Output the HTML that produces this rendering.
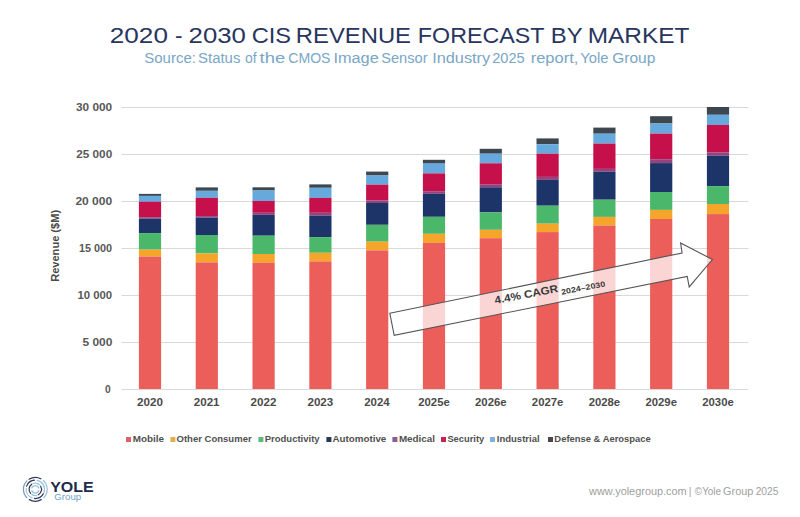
<!DOCTYPE html>
<html><head><meta charset="utf-8"><style>
html,body{margin:0;padding:0;background:#fff;width:800px;height:517px;overflow:hidden}
svg{display:block}
text{font-family:"Liberation Sans", sans-serif}

.title{font-size:22.5px;fill:#28355E}
.sub{font-size:14px;fill:#7AA6C6}
.yl{font-size:10.2px;font-weight:bold;fill:#585858}
.xl{font-size:10.2px;font-weight:bold;fill:#4A4A4A}
.yt{font-size:10.8px;font-weight:bold;fill:#4A4A4A}
.lg{font-size:9.6px;font-weight:bold;fill:#505050}
.cagr{font-size:10.8px;font-weight:bold;fill:#3A3A3A}
.cagrs{font-size:7.6px;font-weight:bold;fill:#3A3A3A}
.foot{font-size:10.3px;fill:#A0A0A0}
.yole{font-size:14.8px;font-weight:bold;fill:#1F2A4D}
.grp{font-size:8.2px;fill:#6FA3C7}

</style></head><body>
<svg width="800" height="517" viewBox="0 0 800 517">
<rect x="121.5" y="389" width="627" height="1" fill="#D9D9D9"/>
<rect x="121.5" y="342" width="627" height="1" fill="#D9D9D9"/>
<rect x="121.5" y="295" width="627" height="1" fill="#D9D9D9"/>
<rect x="121.5" y="248" width="627" height="1" fill="#D9D9D9"/>
<rect x="121.5" y="201" width="627" height="1" fill="#D9D9D9"/>
<rect x="121.5" y="154" width="627" height="1" fill="#D9D9D9"/>
<rect x="121.5" y="107" width="627" height="1" fill="#D9D9D9"/>
<rect x="138.90" y="193.90" width="22.2" height="2.00" fill="#3D4750"/>
<rect x="138.90" y="195.90" width="22.2" height="5.80" fill="#66A9DC"/>
<rect x="138.90" y="201.70" width="22.2" height="15.50" fill="#C6104C"/>
<rect x="138.90" y="217.20" width="22.2" height="1.50" fill="#93447F"/>
<rect x="138.90" y="218.70" width="22.2" height="14.40" fill="#1D3469"/>
<rect x="138.90" y="233.10" width="22.2" height="16.60" fill="#4AB76A"/>
<rect x="138.90" y="249.70" width="22.2" height="6.90" fill="#F5A52A"/>
<rect x="138.90" y="256.60" width="22.2" height="132.40" fill="#EC5E5A"/>
<rect x="195.70" y="187.40" width="22.2" height="3.40" fill="#3D4750"/>
<rect x="195.70" y="190.80" width="22.2" height="7.00" fill="#66A9DC"/>
<rect x="195.70" y="197.80" width="22.2" height="18.30" fill="#C6104C"/>
<rect x="195.70" y="216.10" width="22.2" height="1.50" fill="#93447F"/>
<rect x="195.70" y="217.60" width="22.2" height="17.40" fill="#1D3469"/>
<rect x="195.70" y="235.00" width="22.2" height="18.50" fill="#4AB76A"/>
<rect x="195.70" y="253.50" width="22.2" height="8.90" fill="#F5A52A"/>
<rect x="195.70" y="262.40" width="22.2" height="126.60" fill="#EC5E5A"/>
<rect x="252.50" y="187.30" width="22.2" height="3.20" fill="#3D4750"/>
<rect x="252.50" y="190.50" width="22.2" height="10.40" fill="#66A9DC"/>
<rect x="252.50" y="200.90" width="22.2" height="11.90" fill="#C6104C"/>
<rect x="252.50" y="212.80" width="22.2" height="2.00" fill="#93447F"/>
<rect x="252.50" y="214.80" width="22.2" height="20.90" fill="#1D3469"/>
<rect x="252.50" y="235.70" width="22.2" height="18.30" fill="#4AB76A"/>
<rect x="252.50" y="254.00" width="22.2" height="8.80" fill="#F5A52A"/>
<rect x="252.50" y="262.80" width="22.2" height="126.20" fill="#EC5E5A"/>
<rect x="309.30" y="184.40" width="22.2" height="3.40" fill="#3D4750"/>
<rect x="309.30" y="187.80" width="22.2" height="10.10" fill="#66A9DC"/>
<rect x="309.30" y="197.90" width="22.2" height="14.90" fill="#C6104C"/>
<rect x="309.30" y="212.80" width="22.2" height="2.90" fill="#93447F"/>
<rect x="309.30" y="215.70" width="22.2" height="21.40" fill="#1D3469"/>
<rect x="309.30" y="237.10" width="22.2" height="15.70" fill="#4AB76A"/>
<rect x="309.30" y="252.80" width="22.2" height="8.60" fill="#F5A52A"/>
<rect x="309.30" y="261.40" width="22.2" height="127.60" fill="#EC5E5A"/>
<rect x="366.10" y="171.60" width="22.2" height="3.90" fill="#3D4750"/>
<rect x="366.10" y="175.50" width="22.2" height="9.20" fill="#66A9DC"/>
<rect x="366.10" y="184.70" width="22.2" height="15.70" fill="#C6104C"/>
<rect x="366.10" y="200.40" width="22.2" height="2.60" fill="#93447F"/>
<rect x="366.10" y="203.00" width="22.2" height="21.80" fill="#1D3469"/>
<rect x="366.10" y="224.80" width="22.2" height="16.90" fill="#4AB76A"/>
<rect x="366.10" y="241.70" width="22.2" height="8.70" fill="#F5A52A"/>
<rect x="366.10" y="250.40" width="22.2" height="138.60" fill="#EC5E5A"/>
<rect x="422.90" y="159.80" width="22.2" height="3.80" fill="#3D4750"/>
<rect x="422.90" y="163.60" width="22.2" height="9.80" fill="#66A9DC"/>
<rect x="422.90" y="173.40" width="22.2" height="17.80" fill="#C6104C"/>
<rect x="422.90" y="191.20" width="22.2" height="2.60" fill="#93447F"/>
<rect x="422.90" y="193.80" width="22.2" height="23.00" fill="#1D3469"/>
<rect x="422.90" y="216.80" width="22.2" height="17.00" fill="#4AB76A"/>
<rect x="422.90" y="233.80" width="22.2" height="9.10" fill="#F5A52A"/>
<rect x="422.90" y="242.90" width="22.2" height="146.10" fill="#EC5E5A"/>
<rect x="479.70" y="148.80" width="22.2" height="4.90" fill="#3D4750"/>
<rect x="479.70" y="153.70" width="22.2" height="9.60" fill="#66A9DC"/>
<rect x="479.70" y="163.30" width="22.2" height="20.90" fill="#C6104C"/>
<rect x="479.70" y="184.20" width="22.2" height="3.10" fill="#93447F"/>
<rect x="479.70" y="187.30" width="22.2" height="25.10" fill="#1D3469"/>
<rect x="479.70" y="212.40" width="22.2" height="17.40" fill="#4AB76A"/>
<rect x="479.70" y="229.80" width="22.2" height="8.40" fill="#F5A52A"/>
<rect x="479.70" y="238.20" width="22.2" height="150.80" fill="#EC5E5A"/>
<rect x="536.50" y="138.40" width="22.2" height="5.80" fill="#3D4750"/>
<rect x="536.50" y="144.20" width="22.2" height="9.50" fill="#66A9DC"/>
<rect x="536.50" y="153.70" width="22.2" height="23.20" fill="#C6104C"/>
<rect x="536.50" y="176.90" width="22.2" height="3.00" fill="#93447F"/>
<rect x="536.50" y="179.90" width="22.2" height="25.80" fill="#1D3469"/>
<rect x="536.50" y="205.70" width="22.2" height="18.00" fill="#4AB76A"/>
<rect x="536.50" y="223.70" width="22.2" height="8.40" fill="#F5A52A"/>
<rect x="536.50" y="232.10" width="22.2" height="156.90" fill="#EC5E5A"/>
<rect x="593.30" y="127.60" width="22.2" height="6.10" fill="#3D4750"/>
<rect x="593.30" y="133.70" width="22.2" height="9.90" fill="#66A9DC"/>
<rect x="593.30" y="143.60" width="22.2" height="25.30" fill="#C6104C"/>
<rect x="593.30" y="168.90" width="22.2" height="2.80" fill="#93447F"/>
<rect x="593.30" y="171.70" width="22.2" height="28.00" fill="#1D3469"/>
<rect x="593.30" y="199.70" width="22.2" height="17.20" fill="#4AB76A"/>
<rect x="593.30" y="216.90" width="22.2" height="8.70" fill="#F5A52A"/>
<rect x="593.30" y="225.60" width="22.2" height="163.40" fill="#EC5E5A"/>
<rect x="650.10" y="116.20" width="22.2" height="7.30" fill="#3D4750"/>
<rect x="650.10" y="123.50" width="22.2" height="10.10" fill="#66A9DC"/>
<rect x="650.10" y="133.60" width="22.2" height="25.60" fill="#C6104C"/>
<rect x="650.10" y="159.20" width="22.2" height="3.90" fill="#93447F"/>
<rect x="650.10" y="163.10" width="22.2" height="28.90" fill="#1D3469"/>
<rect x="650.10" y="192.00" width="22.2" height="17.90" fill="#4AB76A"/>
<rect x="650.10" y="209.90" width="22.2" height="9.10" fill="#F5A52A"/>
<rect x="650.10" y="219.00" width="22.2" height="170.00" fill="#EC5E5A"/>
<rect x="706.90" y="107.00" width="22.2" height="7.80" fill="#3D4750"/>
<rect x="706.90" y="114.80" width="22.2" height="10.10" fill="#66A9DC"/>
<rect x="706.90" y="124.90" width="22.2" height="27.40" fill="#C6104C"/>
<rect x="706.90" y="152.30" width="22.2" height="3.40" fill="#93447F"/>
<rect x="706.90" y="155.70" width="22.2" height="30.40" fill="#1D3469"/>
<rect x="706.90" y="186.10" width="22.2" height="17.90" fill="#4AB76A"/>
<rect x="706.90" y="204.00" width="22.2" height="10.10" fill="#F5A52A"/>
<rect x="706.90" y="214.10" width="22.2" height="174.90" fill="#EC5E5A"/>
<path d="M389.8,313.3 L682.1,253 L680.6,242.9 L712.4,259.5 L689.2,286.9 L687.2,276.5 L394.2,335.3 Z" fill="rgba(255,255,255,0.74)" stroke="#555" stroke-width="1.1" stroke-linejoin="miter"/>
<rect x="126" y="437" width="5" height="5" fill="#DD5F70"/>
<rect x="170.4" y="437" width="5" height="5" fill="#E3AE4F"/>
<rect x="258.4" y="437" width="5" height="5" fill="#5DB97B"/>
<rect x="326.4" y="437" width="5" height="5" fill="#25385E"/>
<rect x="392.4" y="437" width="5" height="5" fill="#8C5A96"/>
<rect x="441" y="437" width="5" height="5" fill="#C2254F"/>
<rect x="490" y="437" width="5" height="5" fill="#7EB2DA"/>
<rect x="548" y="437" width="5" height="5" fill="#484848"/>
<path d="M28.99,479.21 A11.9,11.9 0 0 1 40.89,478.79" fill="none" stroke="#2F3A5A" stroke-width="1.25" stroke-linecap="round"/>
<path d="M41.25,499.61 A11.9,11.9 0 0 1 29.35,499.61" fill="none" stroke="#2F3A5A" stroke-width="1.25" stroke-linecap="round"/>
<path d="M26.89,497.71 A11.9,11.9 0 0 1 26.89,480.89" fill="none" stroke="#7E9DB3" stroke-width="1.25" stroke-linecap="round"/>
<path d="M43.26,480.46 A11.9,11.9 0 0 1 43.71,497.71" fill="none" stroke="#9CC2DA" stroke-width="1.25" stroke-linecap="round"/>
<path d="M26.65,486.15 A9.2,9.2 0 0 1 34.50,480.14" fill="none" stroke="#2F3A5A" stroke-width="1.25" stroke-linecap="round"/>
<path d="M43.27,493.90 A9.2,9.2 0 0 1 34.50,498.46" fill="none" stroke="#2F3A5A" stroke-width="1.25" stroke-linecap="round"/>
<path d="M37.21,480.30 A9.2,9.2 0 0 1 43.95,492.45" fill="none" stroke="#9CC2DA" stroke-width="1.25" stroke-linecap="round"/>
<path d="M32.15,497.95 A9.2,9.2 0 0 1 26.14,488.50" fill="none" stroke="#9CC2DA" stroke-width="1.25" stroke-linecap="round"/>
<path d="M30.55,493.29 A6.2,6.2 0 0 1 31.74,484.22" fill="none" stroke="#2F3A5A" stroke-width="1.25" stroke-linecap="round"/>
<path d="M40.67,486.20 A6.2,6.2 0 0 1 38.40,494.67" fill="none" stroke="#2F3A5A" stroke-width="1.25" stroke-linecap="round"/>
<path d="M33.18,483.47 A6.2,6.2 0 0 1 39.91,485.15" fill="none" stroke="#9CC2DA" stroke-width="1.25" stroke-linecap="round"/>
<path d="M36.90,495.29 A6.2,6.2 0 0 1 31.74,494.38" fill="none" stroke="#9CC2DA" stroke-width="1.25" stroke-linecap="round"/>
<path d="M31.82,488.03 A3.7,3.7 0 0 1 38.78,488.03" fill="none" stroke="#9CC2DA" stroke-width="1.25" stroke-linecap="round"/>
<path d="M38.78,490.57 A3.7,3.7 0 0 1 31.82,490.57" fill="none" stroke="#9CC2DA" stroke-width="1.25" stroke-linecap="round"/>
<text x="109.83" y="43" class="title" textLength="58.10" lengthAdjust="spacingAndGlyphs">2020</text>
<text x="175.12" y="43" class="title" textLength="7.50" lengthAdjust="spacingAndGlyphs">-</text>
<text x="188.60" y="43" class="title" textLength="57.32" lengthAdjust="spacingAndGlyphs">2030</text>
<text x="251.69" y="43" class="title" textLength="39.37" lengthAdjust="spacingAndGlyphs">CIS</text>
<text x="295.82" y="43" class="title" textLength="115.20" lengthAdjust="spacingAndGlyphs">REVENUE</text>
<text x="417.88" y="43" class="title" textLength="126.50" lengthAdjust="spacingAndGlyphs">FORECAST</text>
<text x="550.81" y="43" class="title" textLength="31.93" lengthAdjust="spacingAndGlyphs">BY</text>
<text x="587.77" y="43" class="title" textLength="101.70" lengthAdjust="spacingAndGlyphs">MARKET</text>
<text x="144.27" y="62.6" class="sub" textLength="51.66" lengthAdjust="spacingAndGlyphs">Source:</text>
<text x="198.07" y="62.6" class="sub" textLength="42.33" lengthAdjust="spacingAndGlyphs">Status</text>
<text x="244.97" y="62.6" class="sub" textLength="11.60" lengthAdjust="spacingAndGlyphs">of</text>
<text x="259.62" y="62.6" class="sub" textLength="25.57" lengthAdjust="spacingAndGlyphs">the</text>
<text x="288.25" y="62.6" class="sub" textLength="42.25" lengthAdjust="spacingAndGlyphs">CMOS</text>
<text x="333.41" y="62.6" class="sub" textLength="45.36" lengthAdjust="spacingAndGlyphs">Image</text>
<text x="381.20" y="62.6" class="sub" textLength="46.35" lengthAdjust="spacingAndGlyphs">Sensor</text>
<text x="432.16" y="62.6" class="sub" textLength="58.08" lengthAdjust="spacingAndGlyphs">Industry</text>
<text x="492.26" y="62.6" class="sub" textLength="32.42" lengthAdjust="spacingAndGlyphs">2025</text>
<text x="530.65" y="62.6" class="sub" textLength="47.78" lengthAdjust="spacingAndGlyphs">report,</text>
<text x="580.31" y="62.6" class="sub" textLength="28.21" lengthAdjust="spacingAndGlyphs">Yole</text>
<text x="612.19" y="62.6" class="sub" textLength="43.11" lengthAdjust="spacingAndGlyphs">Group</text>
<text x="105.12" y="392.6" class="yl" textLength="5.67" lengthAdjust="spacingAndGlyphs">0</text>
<text x="82.48" y="345.6" class="yl" textLength="29.96" lengthAdjust="spacingAndGlyphs">5 000</text>
<text x="77.47" y="298.6" class="yl" textLength="34.72" lengthAdjust="spacingAndGlyphs">10 000</text>
<text x="79.00" y="251.6" class="yl" textLength="33.16" lengthAdjust="spacingAndGlyphs">15 000</text>
<text x="75.42" y="204.6" class="yl" textLength="36.79" lengthAdjust="spacingAndGlyphs">20 000</text>
<text x="76.23" y="157.6" class="yl" textLength="35.97" lengthAdjust="spacingAndGlyphs">25 000</text>
<text x="76.04" y="110.6" class="yl" textLength="36.16" lengthAdjust="spacingAndGlyphs">30 000</text>
<text x="137.03" y="406.2" class="xl" textLength="25.86" lengthAdjust="spacingAndGlyphs">2020</text>
<text x="193.84" y="406.2" class="xl" textLength="25.71" lengthAdjust="spacingAndGlyphs">2021</text>
<text x="250.64" y="406.2" class="xl" textLength="25.81" lengthAdjust="spacingAndGlyphs">2022</text>
<text x="307.44" y="406.2" class="xl" textLength="25.82" lengthAdjust="spacingAndGlyphs">2023</text>
<text x="364.24" y="406.2" class="xl" textLength="25.46" lengthAdjust="spacingAndGlyphs">2024</text>
<text x="418.25" y="406.2" class="xl" textLength="31.51" lengthAdjust="spacingAndGlyphs">2025e</text>
<text x="475.05" y="406.2" class="xl" textLength="31.51" lengthAdjust="spacingAndGlyphs">2026e</text>
<text x="531.85" y="406.2" class="xl" textLength="31.51" lengthAdjust="spacingAndGlyphs">2027e</text>
<text x="588.65" y="406.2" class="xl" textLength="31.51" lengthAdjust="spacingAndGlyphs">2028e</text>
<text x="645.45" y="406.2" class="xl" textLength="31.51" lengthAdjust="spacingAndGlyphs">2029e</text>
<text x="702.25" y="406.2" class="xl" textLength="31.51" lengthAdjust="spacingAndGlyphs">2030e</text>
<text x="132.72" y="442" class="lg" textLength="31.40" lengthAdjust="spacingAndGlyphs">Mobile</text>
<text x="176.53" y="442" class="lg" textLength="75.12" lengthAdjust="spacingAndGlyphs">Other Consumer</text>
<text x="264.75" y="442" class="lg" textLength="54.86" lengthAdjust="spacingAndGlyphs">Productivity</text>
<text x="332.52" y="442" class="lg" textLength="53.74" lengthAdjust="spacingAndGlyphs">Automotive</text>
<text x="398.92" y="442" class="lg" textLength="36.12" lengthAdjust="spacingAndGlyphs">Medical</text>
<text x="447.39" y="442" class="lg" textLength="36.83" lengthAdjust="spacingAndGlyphs">Security</text>
<text x="496.75" y="442" class="lg" textLength="42.86" lengthAdjust="spacingAndGlyphs">Industrial</text>
<text x="554.35" y="442" class="lg" textLength="96.45" lengthAdjust="spacingAndGlyphs">Defense &amp; Aerospace</text>
<text x="589.14" y="494.5" class="foot" textLength="97.58" lengthAdjust="spacingAndGlyphs">www.yolegroup.com</text>
<text x="688.63" y="494.5" class="foot" textLength="2.69" lengthAdjust="spacingAndGlyphs">|</text>
<text x="694.82" y="494.5" class="foot" textLength="26.29" lengthAdjust="spacingAndGlyphs">©Yole</text>
<text x="723.14" y="494.5" class="foot" textLength="30.15" lengthAdjust="spacingAndGlyphs">Group</text>
<text x="755.68" y="494.5" class="foot" textLength="22.78" lengthAdjust="spacingAndGlyphs">2025</text>
<text x="50.17" y="491.6" class="yole" textLength="43.55" lengthAdjust="spacingAndGlyphs">YOLE</text>
<text x="54.37" y="499.8" class="grp" textLength="26.81" lengthAdjust="spacingAndGlyphs">Group</text>
<g transform="translate(58.6,245.8) rotate(-90)"><text x="-36.04" y="0" class="yt" textLength="71.94" lengthAdjust="spacingAndGlyphs">Revenue ($M)</text></g>
<g transform="translate(495.5,304) rotate(-10.8)"><text x="-0.27" y="0" class="cagr" textLength="64.47" lengthAdjust="spacingAndGlyphs">4.4% CAGR</text><text x="66.78" y="3.2" class="cagrs" textLength="44.65" lengthAdjust="spacingAndGlyphs">2024–2030</text></g>
</svg>
</body></html>
